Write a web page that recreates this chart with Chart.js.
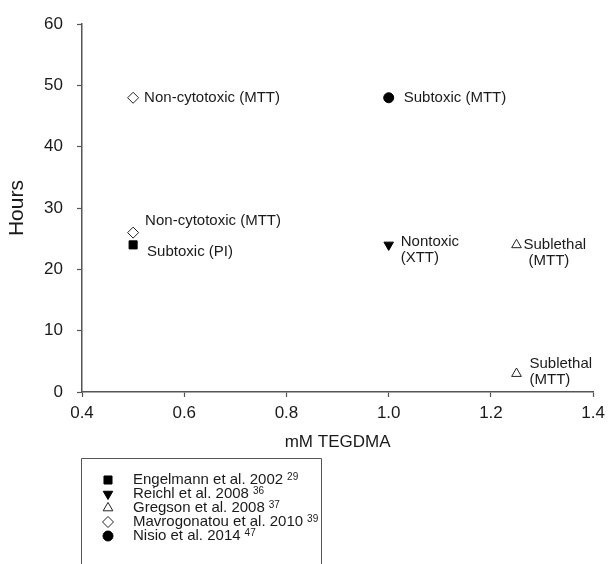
<!DOCTYPE html>
<html>
<head>
<meta charset="utf-8">
<title>TEGDMA cytotoxicity</title>
<script src="https://cdn.jsdelivr.net/npm/chart.js@4.4.1/dist/chart.umd.min.js"></script>
<style>
    body { margin: 0; background: #fff; }
    #chartTegdma { display: block; }
</style>
</head>
<body>
<canvas id="chartTegdma" width="611" height="564"></canvas>
<script>
"use strict";
var FONT = "'Liberation Sans', Arial, Helvetica, sans-serif";
var INK = "#1a1a1a";

// studies (legend order)
var studyNames = ["Engelmann et al. 2002", "Reichl et al. 2008", "Gregson et al. 2008", "Mavrogonatou et al. 2010", "Nisio et al. 2014"];
var studyRefs = ["29", "36", "37", "39", "47"];

// mM TEGDMA / hours / outcome per study
var engelmannX = [0.5];
var engelmannY = [24];
var engelmannNotes = [["Subtoxic (PI)"]];

var reichlX = [1.0];
var reichlY = [24];
var reichlNotes = [["Nontoxic", "(XTT)"]];

var gregsonX = [1.25, 1.25];
var gregsonY = [24, 3];
var gregsonNotes = [["Sublethal", "(MTT)"], ["Sublethal", "(MTT)"]];

var mavroX = [0.5, 0.5];
var mavroY = [48, 26];
var mavroNotes = [["Non-cytotoxic (MTT)"], ["Non-cytotoxic (MTT)"]];

var nisioX = [1.0];
var nisioY = [48];
var nisioNotes = [["Subtoxic (MTT)"]];

var xTicks = [0.4, 0.6, 0.8, 1.0, 1.2, 1.4];
var yTicks = [0, 10, 20, 30, 40, 50, 60];

// where each note sits next to its marker: [dx per line], dy of first line
var noteStyle = [
    [{ dx: [14], dy: 7 }],
    [{ dx: [12, 12], dy: -3 }],
    [{ dx: [7, 12], dy: 0 }, { dx: [13, 13], dy: -10 }],
    [{ dx: [11], dy: 0 }, { dx: [12], dy: -12 }],
    [{ dx: [15], dy: 0 }]
];
var noteLines = [engelmannNotes, reichlNotes, gregsonNotes, mavroNotes, nisioNotes];

function toPoints(xs, ys) {
    var pts = [];
    for (var i = 0; i < xs.length; i++) {
        pts.push({ x: xs[i], y: ys[i] });
    }
    return pts;
}

var pointNotes = {
    id: "pointNotes",
    afterDatasetsDraw: function (chart) {
        var ctx = chart.ctx;
        var xs = chart.scales.x, ys = chart.scales.y;
        ctx.save();
        ctx.font = "15px " + FONT;
        ctx.fillStyle = INK;
        ctx.textAlign = "left";
        ctx.textBaseline = "middle";
        chart.data.datasets.forEach(function (ds, i) {
            ds.data.forEach(function (p, j) {
                var px = xs.getPixelForValue(p.x);
                var py = ys.getPixelForValue(p.y);
                var st = noteStyle[i][j];
                noteLines[i][j].forEach(function (line, k) {
                    ctx.fillText(line, px + st.dx[k], py + st.dy + k * 16);
                });
            });
        });
        ctx.restore();
    }
};

var boxLegend = {
    id: "boxLegend",
    afterDraw: function (chart) {
        var ctx = chart.ctx;
        var left = 81.5, top = 458.5, right = 321.5;
        ctx.save();
        ctx.strokeStyle = "#555";
        ctx.lineWidth = 1;
        ctx.beginPath();
        ctx.moveTo(left, chart.height + 2);
        ctx.lineTo(left, top);
        ctx.lineTo(right, top);
        ctx.lineTo(right, chart.height + 2);
        ctx.stroke();
        ctx.textBaseline = "middle";
        ctx.textAlign = "left";
        chart.data.datasets.forEach(function (ds, i) {
            var y = 480 + i * 14;
            ctx.fillStyle = ds.backgroundColor;
            ctx.strokeStyle = ds.borderColor;
            ctx.lineWidth = ds.borderWidth;
            Chart.helpers.drawPoint(ctx, {
                pointStyle: ds.pointStyle,
                rotation: ds.rotation || 0,
                radius: ds.pointRadius,
                borderWidth: ds.borderWidth
            }, 108, y);
            ctx.fillStyle = INK;
            ctx.font = "15px " + FONT;
            ctx.fillText(studyNames[i], 133, y);
            var w = ctx.measureText(studyNames[i]).width;
            ctx.font = "10px " + FONT;
            ctx.fillText(studyRefs[i], 133 + w + 4, y - 3);
        });
        ctx.restore();
    }
};

var markerStyles = [
    { pointStyle: "rect", rotation: 0, pointRadius: 5.7, backgroundColor: "#000", borderColor: "#000", borderWidth: 1 },
    { pointStyle: "triangle", rotation: 180, pointRadius: 5.5, backgroundColor: "#000", borderColor: "#000", borderWidth: 1 },
    { pointStyle: "triangle", rotation: 0, pointRadius: 5.6, backgroundColor: "#fff", borderColor: "#222", borderWidth: 1 },
    { pointStyle: "rectRot", rotation: 0, pointRadius: 5.5, backgroundColor: "#fff", borderColor: "#222", borderWidth: 1 },
    { pointStyle: "circle", rotation: 0, pointRadius: 5, backgroundColor: "#000", borderColor: "#000", borderWidth: 1 }
];
var seriesData = [
    toPoints(engelmannX, engelmannY),
    toPoints(reichlX, reichlY),
    toPoints(gregsonX, gregsonY),
    toPoints(mavroX, mavroY),
    toPoints(nisioX, nisioY)
];

var datasets = studyNames.map(function (name, i) {
    var m = markerStyles[i];
    return {
        label: name,
        data: seriesData[i],
        pointStyle: m.pointStyle,
        rotation: m.rotation,
        pointRadius: m.pointRadius,
        pointHoverRadius: m.pointRadius,
        backgroundColor: m.backgroundColor,
        borderColor: m.borderColor,
        borderWidth: m.borderWidth,
        showLine: false
    };
});

var axisGrid = {
    drawOnChartArea: false,
    drawTicks: true,
    tickLength: 5,
    tickColor: "#555",
    tickWidth: 1.2
};
var axisBorder = { display: true, color: "#555", width: 1.5 };

var chartTegdma = new Chart(document.getElementById("chartTegdma"), {
    type: "scatter",
    data: { datasets: datasets },
    plugins: [pointNotes, boxLegend],
    options: {
        responsive: false,
        animation: false,
        layout: { padding: { left: 0, right: 13, top: 20, bottom: 111 } },
        plugins: {
            legend: { display: false },
            tooltip: { enabled: false }
        },
        scales: {
            x: {
                type: "linear",
                min: xTicks[0],
                max: xTicks[xTicks.length - 1],
                afterBuildTicks: function (scale) {
                    scale.ticks = xTicks.map(function (v) { return { value: v }; });
                },
                afterFit: function (scale) { scale.height = 61; },
                ticks: {
                    color: INK,
                    padding: 6,
                    font: { family: FONT, size: 17 },
                    callback: function (v) { return Number(v).toFixed(1); }
                },
                grid: axisGrid,
                border: axisBorder,
                title: {
                    display: true,
                    text: "mM TEGDMA",
                    color: INK,
                    padding: 0,
                    font: { family: FONT, size: 17 }
                }
            },
            y: {
                type: "linear",
                min: yTicks[0],
                max: yTicks[yTicks.length - 1],
                afterBuildTicks: function (scale) {
                    scale.ticks = yTicks.map(function (v) { return { value: v }; });
                },
                afterFit: function (scale) { scale.width = 82; },
                ticks: {
                    color: INK,
                    padding: 14,
                    font: { family: FONT, size: 17 }
                },
                grid: axisGrid,
                border: axisBorder,
                title: {
                    display: true,
                    text: "Hours",
                    color: INK,
                    padding: { top: 5, bottom: 0 },
                    font: { family: FONT, size: 21 }
                }
            }
        }
    }
});
</script>
</body>
</html>
